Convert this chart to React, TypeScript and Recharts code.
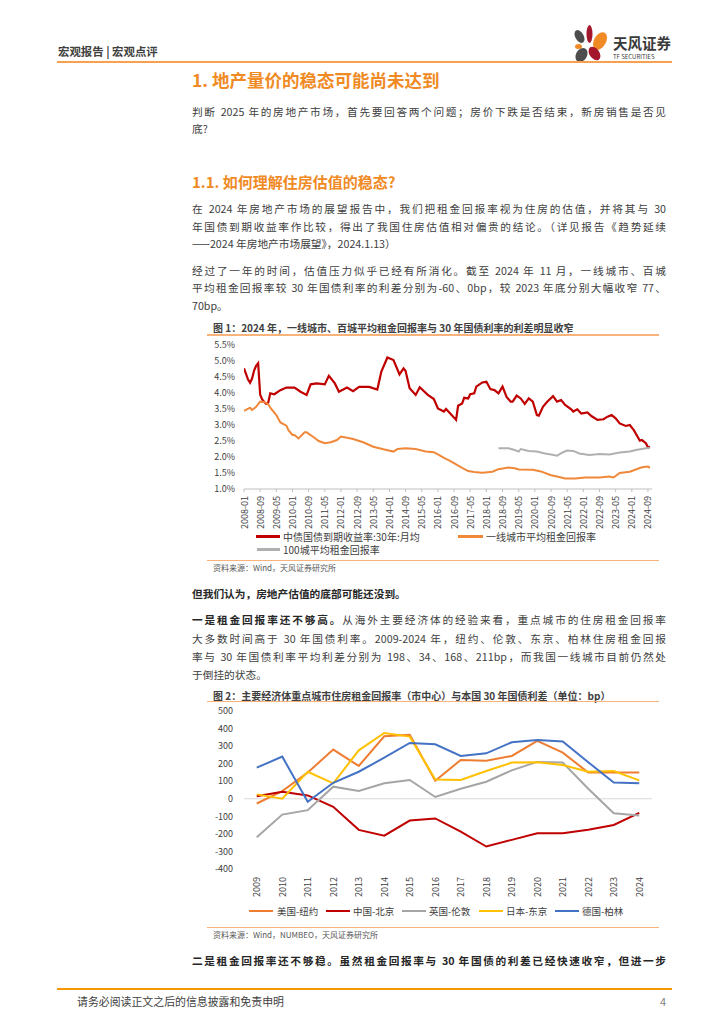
import React from "react";
import { LineChart, Line, XAxis, YAxis, ReferenceLine } from "recharts";

const FONT = '"Noto Sans CJK SC", "Noto Sans", sans-serif';

// 图1: month index counted from 2008-01
const bondMonths = [0, 1, 2, 3, 4, 5, 6, 7, 8, 9, 10, 11, 12, 13, 15, 18, 21, 25, 28, 31, 33, 36, 40, 42, 45, 47, 51, 54, 57, 62, 66, 68, 71, 74, 77, 79, 80, 82, 85, 87, 91, 94, 96, 99, 100, 102, 105, 106, 108, 109, 111, 112, 114, 115, 118, 120, 122, 124, 126, 128, 130, 132, 133, 135, 137, 139, 141, 143, 145, 146, 148, 150, 153, 155, 157, 159, 162, 163, 165, 167, 170, 172, 175, 178, 180, 182, 184, 186, 189, 191, 193, 196, 197, 199, 200, 201];
const bondYield = [4.77, 4.6, 4.42, 4.32, 4.45, 4.7, 4.85, 4.93, 3.95, 3.8, 3.72, 3.66, 3.7, 3.99, 3.96, 4.09, 4.17, 4.17, 4.04, 3.94, 4.27, 4.3, 4.27, 4.54, 4.3, 4.04, 4.17, 4.06, 4.19, 4.19, 4.11, 4.67, 5.11, 5.03, 4.58, 4.77, 4.69, 4.15, 3.94, 4.18, 3.94, 3.81, 3.52, 3.42, 3.5, 3.37, 3.16, 3.6, 3.67, 3.85, 3.83, 3.96, 3.99, 4.2, 4.33, 4.35, 4.12, 4.09, 3.99, 4.2, 3.88, 3.73, 3.73, 3.92, 3.83, 3.66, 3.83, 3.73, 3.31, 3.29, 3.57, 3.72, 3.9, 3.73, 3.78, 3.63, 3.49, 3.42, 3.49, 3.36, 3.39, 3.28, 3.16, 3.18, 3.26, 3.31, 3.21, 3.05, 2.97, 3.0, 2.84, 2.51, 2.53, 2.43, 2.3, 2.32];

const rentMonths = [0, 3, 4, 6, 8, 10, 12, 13, 16, 18, 21, 22, 24, 25, 27, 30, 31, 34, 37, 40, 43, 46, 48, 51, 54, 59, 64, 69, 74, 76, 80, 85, 90, 94, 96, 99, 102, 105, 108, 111, 114, 118, 123, 126, 131, 134, 136, 143, 147, 152, 155, 159, 164, 169, 176, 181, 183, 186, 191, 194, 197, 200, 201];
const rentYield = [3.44, 3.54, 3.47, 3.57, 3.73, 3.72, 3.65, 3.54, 3.31, 3.08, 2.98, 2.84, 2.69, 2.69, 2.58, 2.77, 2.77, 2.64, 2.5, 2.43, 2.46, 2.53, 2.64, 2.6, 2.56, 2.46, 2.32, 2.24, 2.17, 2.25, 2.27, 2.25, 2.17, 2.15, 2.08, 1.97, 1.88, 1.77, 1.66, 1.56, 1.53, 1.51, 1.54, 1.62, 1.67, 1.65, 1.61, 1.6, 1.55, 1.43, 1.39, 1.33, 1.33, 1.36, 1.36, 1.39, 1.36, 1.5, 1.54, 1.61, 1.68, 1.7, 1.66];

const city100Months = [126, 131, 134, 136, 137, 141, 145, 149, 152, 155, 158, 160, 163, 166, 171, 176, 181, 186, 191, 194, 199, 201];
const city100Yield = [2.27, 2.27, 2.22, 2.17, 2.25, 2.19, 2.17, 2.11, 2.08, 2.04, 2.15, 2.2, 2.19, 2.11, 2.06, 2.09, 2.08, 2.14, 2.17, 2.22, 2.27, 2.28];

const monthTicks = [0, 8, 16, 24, 32, 40, 48, 56, 64, 72, 80, 88, 96, 104, 112, 120, 128, 136, 144, 152, 160, 168, 176, 184, 192, 200];
const yieldTicks = [1, 1.5, 2, 2.5, 3, 3.5, 4, 4.5, 5, 5.5];

// 图2: spreads in bp
const years = ["2009", "2010", "2011", "2012", "2013", "2014", "2015", "2016", "2017", "2018", "2019", "2020", "2021", "2022", "2023", "2024"];
const newYork = [-27, 44, 150, 280, 187, 356, 364, 103, 221, 217, 244, 330, 263, 149, 149, 149];
const beijing = [15, 40, 19, -46, -177, -210, -124, -112, -187, -272, -234, -196, -196, -177, -149, -80];
const london = [-219, -90, -65, 69, 44, 88, 107, 10, 57, 97, 162, 210, 206, 57, -82, -95];
const tokyo = [25, 0, 154, 88, 276, 375, 354, 110, 107, 158, 206, 208, 192, 154, 158, 105];
const berlin = [177, 240, -17, 91, 154, 234, 318, 310, 244, 259, 322, 335, 326, 208, 93, 88];
const spreadTicks = [-400, -300, -200, -100, 0, 100, 200, 300, 400, 500];

const bondData = bondMonths.map((m, i) => ({ m, v: bondYield[i] }));
const rentData = rentMonths.map((m, i) => ({ m, v: rentYield[i] }));
const city100Data = city100Months.map((m, i) => ({ m, v: city100Yield[i] }));
const spreadData = years.map((year, i) => ({
  year,
  ny: newYork[i],
  bj: beijing[i],
  ld: london[i],
  tk: tokyo[i],
  bl: berlin[i],
}));

const monthLabel = (m: number) => `${2008 + Math.floor(m / 12)}-${String((m % 12) + 1).padStart(2, "0")}`;

function rotatedTick(format: (v: any) => string) {
  return (props: any) => {
    const { x, y, payload } = props;
    return (
      <text
        transform={`translate(${x},${y}) rotate(-90)`}
        textAnchor="end"
        dominantBaseline="central"
        fontSize={9}
        fill="#404040"
      >
        {format(payload.value)}
      </text>
    );
  };
}

const TEXT = "#404040";
const ORANGE = "#F08A24";

function Txt({ x, y, size, children, bold, color = TEXT, width, justify, lh }: any) {
  const lineH = lh || Math.round(size * 1.5);
  return (
    <div
      style={{
        position: "absolute",
        left: x,
        top: y - lineH / 2,
        width,
        fontSize: size,
        lineHeight: `${lineH}px`,
        fontWeight: bold ? 700 : 400,
        color,
        whiteSpace: justify ? "normal" : "nowrap",
        textAlign: justify ? "justify" : "left",
        textAlignLast: justify ? "justify" : "auto",
      } as any}
    >
      {children}
    </div>
  );
}

function Rule({ x, y, w, h, color }: any) {
  return <div style={{ position: "absolute", left: x, top: y - h / 2, width: w, height: h, background: color }} />;
}

function Para({ lines, ys, lastJustify = false }: { lines: React.ReactNode[]; ys: number[]; lastJustify?: boolean }) {
  return (
    <>
      {lines.map((l, i) => (
        <Txt key={i} x={192} y={ys[i]} size={10.7} width={474} justify={i < lines.length - 1 || lastJustify}>
          {l}
        </Txt>
      ))}
    </>
  );
}

function Swatch({ x, y, w = 24, color }: any) {
  return <div style={{ position: "absolute", left: x, top: y - 1.25, width: w, height: 2.5, background: color }} />;
}

export default function App() {
  return (
    <div style={{ position: "absolute", left: 0, top: 0, width: 724, height: 1024, background: "#fff", fontFamily: FONT, overflow: "hidden" }}>
      {/* header */}
      <Txt x={58} y={51.5} size={11.4} bold>宏观报告 | 宏观点评</Txt>
      <svg style={{ position: "absolute", left: 572, top: 21 }} width={40} height={44}>
        <ellipse cx={17.5} cy={13} rx={3} ry={9} fill="#A3162B" />
        <ellipse cx={28} cy={20} rx={6} ry={9.5} fill="#F08A24" transform="rotate(30 28 20)" />
        <ellipse cx={7.5} cy={15.5} rx={4.2} ry={7} fill="#4D4D4D" transform="rotate(-30 7.5 15.5)" />
        <ellipse cx={6.5} cy={25.5} rx={3.5} ry={2.5} fill="#F08A24" />
        <ellipse cx={22.5} cy={32.5} rx={5} ry={7.5} fill="#A3162B" transform="rotate(-35 22.5 32.5)" />
        <ellipse cx={9.5} cy={34} rx={5.5} ry={7.5} fill="#4D4D4D" transform="rotate(30 9.5 34)" />
      </svg>
      <Txt x={613} y={43} size={14.5} bold color="#3A3A3A">天风证券</Txt>
      <Txt x={613} y={56} size={6} color="#3A3A3A">TF SECURITIES</Txt>
      <Rule x={57} y={61.5} w={615} h={2} color="#F7A150" />

      <Txt x={192} y={80} size={17.5} bold color={ORANGE}>1. 地产量价的稳态可能尚未达到</Txt>

      <Para
        lines={["判断 2025 年的房地产市场，首先要回答两个问题；房价下跌是否结束，新房销售是否见", "底?"]}
        ys={[111.5, 128.5]}
      />

      <Txt x={192} y={181.5} size={15} bold color={ORANGE}>1.1. 如何理解住房估值的稳态?</Txt>

      <Para
        lines={[
          "在 2024 年房地产市场的展望报告中，我们把租金回报率视为住房的估值，并将其与 30",
          "年国债到期收益率作比较，得出了我国住房估值相对偏贵的结论。（详见报告《趋势延续",
          "——2024 年房地产市场展望》，2024.1.13）",
        ]}
        ys={[209, 226.5, 244]}
      />
      <Para
        lines={[
          "经过了一年的时间，估值压力似乎已经有所消化。截至 2024 年 11 月，一线城市、百城",
          "平均租金回报率较 30 年国债利率的利差分别为-60、0bp，较 2023 年底分别大幅收窄 77、",
          "70bp。",
        ]}
        ys={[270.5, 288, 305.5]}
      />

      {/* 图1 */}
      <Txt x={213} y={327} size={10} bold>图 1：2024 年，一线城市、百城平均租金回报率与 30 年国债利率的利差明显收窄</Txt>
      <Rule x={207} y={335} w={452} h={1.5} color="#F8B27A" />
      <div style={{ position: "absolute", left: 200, top: 335 }}>
        <LineChart width={460} height={200} margin={{ top: 10, right: 8, bottom: 0, left: 0 }}>
          <XAxis
            type="number"
            dataKey="m"
            domain={[0, 202]}
            ticks={monthTicks}
            interval={0}
            height={46}
            tickSize={3}
            tickMargin={4}
            stroke="#BFBFBF"
            allowDataOverflow
            tick={rotatedTick((v) => monthLabel(v))}
          />
          <YAxis
            type="number"
            domain={[1, 5.5]}
            ticks={yieldTicks}
            width={44}
            axisLine={false}
            tickLine={false}
            tickSize={0}
            tickMargin={9}
            tick={{ fontSize: 9, fill: "#404040" }}
            tickFormatter={(v: number) => `${v.toFixed(1)}%`}
          />
          <Line data={bondData} dataKey="v" type="linear" stroke="#C00000" strokeWidth={2.2} dot={false} isAnimationActive={false} />
          <Line data={rentData} dataKey="v" type="linear" stroke="#F0883A" strokeWidth={2} dot={false} isAnimationActive={false} />
          <Line data={city100Data} dataKey="v" type="linear" stroke="#B0B0B0" strokeWidth={2} dot={false} isAnimationActive={false} />
        </LineChart>
      </div>
      <Swatch x={256} y={536.5} color="#C00000" />
      <Txt x={283} y={536.5} size={10}>中债国债到期收益率:30年:月均</Txt>
      <Swatch x={458} y={536.5} w={25} color="#F0883A" />
      <Txt x={486} y={536.5} size={10}>一线城市平均租金回报率</Txt>
      <Swatch x={257} y={549.5} w={23} color="#B0B0B0" />
      <Txt x={283} y={549.5} size={10}>100城平均租金回报率</Txt>
      <Rule x={207} y={560.5} w={452} h={1.5} color="#F8B27A" />
      <Txt x={213} y={567.5} size={8} color="#595959">资料来源：Wind，天风证券研究所</Txt>

      <Txt x={192} y={594} size={10.7} bold color="#262626">但我们认为，房地产估值的底部可能还没到。</Txt>

      <Para
        lines={[
          <>
            <b style={{ color: "#262626" }}>一是租金回报率还不够高。</b>从海外主要经济体的经验来看，重点城市的住房租金回报率
          </>,
          "大多数时间高于 30 年国债利率。2009-2024 年，纽约、伦敦、东京、柏林住房租金回报",
          "率与 30 年国债利率平均利差分别为 198、34、168、211bp，而我国一线城市目前仍然处",
          "于倒挂的状态。",
        ]}
        ys={[620, 638.5, 656.5, 674.5]}
      />

      {/* 图2 */}
      <Txt x={213} y={695} size={10} bold>图 2：主要经济体重点城市住房租金回报率（市中心）与本国 30 年国债利差（单位：bp）</Txt>
      <Rule x={207} y={701.5} w={452} h={1.5} color="#F8B27A" />
      <div style={{ position: "absolute", left: 200, top: 701 }}>
        <LineChart width={460} height={200} data={spreadData} margin={{ top: 10, right: 8, bottom: 0, left: 0 }}>
          <XAxis
            dataKey="year"
            height={32}
            interval={0}
            padding={{ left: 12.75, right: 12.75 }}
            axisLine={false}
            tickLine={false}
            tickSize={0}
            tickMargin={8}
            tick={rotatedTick((v) => String(v))}
          />
          <YAxis
            type="number"
            domain={[-400, 500]}
            ticks={spreadTicks}
            width={44}
            axisLine={false}
            tickLine={false}
            tickSize={0}
            tickMargin={11}
            tick={{ fontSize: 9, fill: "#404040" }}
          />
          <ReferenceLine y={0} stroke="#D9D9D9" />
          <Line dataKey="ny" type="linear" stroke="#ED7D31" strokeWidth={2} dot={false} isAnimationActive={false} />
          <Line dataKey="bj" type="linear" stroke="#C00000" strokeWidth={2} dot={false} isAnimationActive={false} />
          <Line dataKey="ld" type="linear" stroke="#A5A5A5" strokeWidth={2} dot={false} isAnimationActive={false} />
          <Line dataKey="tk" type="linear" stroke="#FFC000" strokeWidth={2} dot={false} isAnimationActive={false} />
          <Line dataKey="bl" type="linear" stroke="#4472C4" strokeWidth={2} dot={false} isAnimationActive={false} />
        </LineChart>
      </div>
      <Swatch x={249} y={911} color="#ED7D31" />
      <Txt x={277} y={911} size={9.5}>美国-纽约</Txt>
      <Swatch x={326} y={911} color="#C00000" />
      <Txt x={353} y={911} size={9.5}>中国-北京</Txt>
      <Swatch x={402} y={911} color="#A5A5A5" />
      <Txt x={429} y={911} size={9.5}>英国-伦敦</Txt>
      <Swatch x={479} y={911} color="#FFC000" />
      <Txt x={506} y={911} size={9.5}>日本-东京</Txt>
      <Swatch x={555} y={911} color="#4472C4" />
      <Txt x={582} y={911} size={9.5}>德国-柏林</Txt>
      <Rule x={207} y={927.5} w={452} h={1.5} color="#F8B27A" />
      <Txt x={213} y={934.5} size={8} color="#595959">资料来源：Wind，NUMBEO，天风证券研究所</Txt>

      <Txt x={192} y={961} size={10.7} bold width={474} justify color="#262626">
        二是租金回报率还不够稳。虽然租金回报率与 30 年国债的利差已经快速收窄，但进一步
      </Txt>

      {/* footer */}
      <Rule x={57} y={989} w={615} h={2.5} color="#F39800" />
      <Txt x={77} y={1001} size={10.9}>请务必阅读正文之后的信息披露和免责申明</Txt>
      <Txt x={660} y={1001} size={10.9} color="#808080">4</Txt>
    </div>
  );
}
